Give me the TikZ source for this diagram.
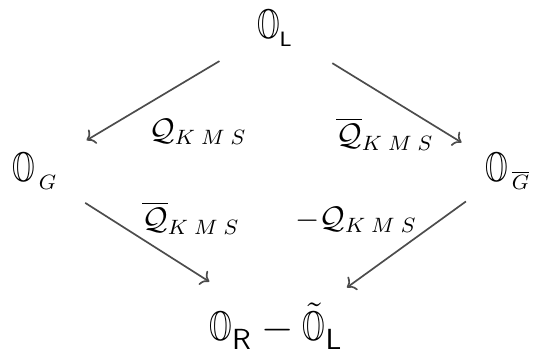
\documentclass[tikz,border=0pt]{standalone}
\usepackage{fix-cm}
\usepackage{amsmath}
\usepackage{amssymb}
\usepackage{tikz}
\usetikzlibrary{arrows.meta}

\newcommand{\opO}{\mbox{\scalebox{0.7}[1]{$\mathbb{O}$}}}
\newcommand{\kms}{K\mkern5mu M\mkern5mu S}

\begin{document}
\begin{tikzpicture}[x=0.385pt, y=-0.385pt, auto,
    vertex/.style={font=\fontsize{16}{19}\selectfont},
    twist/.style={font=\fontsize{12}{14}\selectfont},
    map/.style={->, draw=black!70, line width=0.65pt}]
  \useasboundingbox (0,0) rectangle (535,352);

  % corners
  \node (top) [vertex] at (275,28) {$\opO_{\scriptscriptstyle\mathsf{L}}$};
  \node (left) [vertex] at (35,171) {$\opO_{\scriptscriptstyle\,G}$};
  \node (right) [vertex] at (508,171) {$\opO_{\scriptscriptstyle\,\overline{G}}$};
  \node (bottom) [vertex] at (276,326) {$\opO_{\mathsf{R}} - \tilde{\opO}_{\mathsf{L}}$};

  % maps
  \draw[map, shorten <=24.9pt, shorten >=23.1pt] (top.center) -- (left.center);
  \draw[map, shorten <=25.9pt, shorten >=21pt] (top.center) -- (right.center);
  \draw[map, shorten <=22.9pt, shorten >=35.4pt] (left.center) -- ([xshift=4.2pt,yshift=-1.9pt]bottom.center);
  \draw[map, shorten <=20pt, shorten >=28.5pt] (right.center) -- ([xshift=4.2pt,yshift=-1.9pt]bottom.center);

  % labels
  \node (qtl) [twist] at (198,132) {$\mathcal{Q}_{\kms}$};
  \node (qtr) [twist] at (385,134) {$\overline{\mathcal{Q}}_{\kms}$};
  \node (qbl) [twist] at (191,218) {$\overline{\mathcal{Q}}_{\kms}$};
  \node (qbr) [twist] at (356,220) {$-\mathcal{Q}_{\kms}$};
\end{tikzpicture}
\end{document}
